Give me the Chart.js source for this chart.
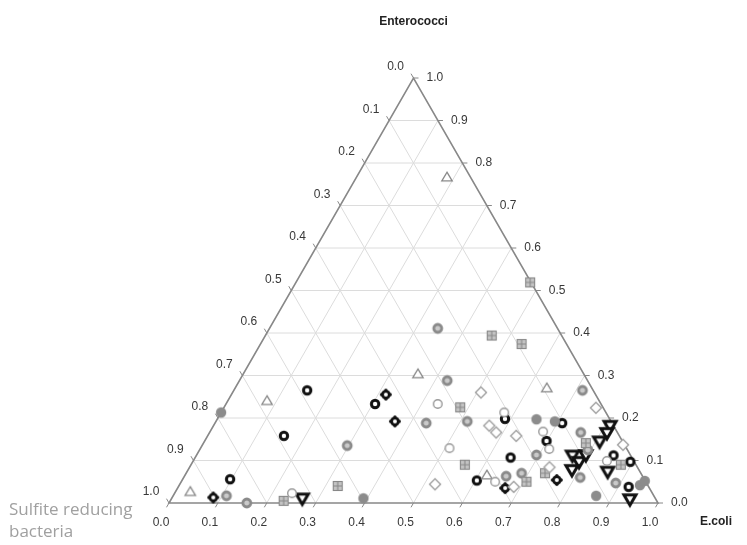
<!DOCTYPE html>
<html>
<head>
<meta charset="utf-8">
<script src="https://cdn.jsdelivr.net/npm/chart.js@4.4.0/dist/chart.umd.min.js"></script>
<style>
  html, body { margin: 0; padding: 0; background: #fff; }
  #chart { display: block; }
</style>
</head>
<body>
<canvas id="chart" width="747" height="545"></canvas>
<script>
// Axis ticks and titles
const tickLabels = ['0.0', '0.1', '0.2', '0.3', '0.4', '0.5', '0.6', '0.7', '0.8', '0.9', '1.0'];
const titleTop = 'Enterococci';
const titleRight = 'E.coli';
const titleLeft = ['Sulfite reducing', 'bacteria'];

// Samples as [E.coli, Enterococci] fractions (sulfite reducing bacteria = the rest)
const blackRings = [[0.15, 0.265], [0.305, 0.233], [0.156, 0.158], [0.097, 0.056], [0.588, 0.198], [0.71, 0.188],
  [0.699, 0.146], [0.645, 0.107], [0.603, 0.053], [0.895, 0.097], [0.853, 0.112], [0.921, 0.038]];
const blackFlowers = [[0.316, 0.255], [0.366, 0.192], [0.084, 0.013], [0.67, 0.035], [0.766, 0.054]];
const blackTriangles = [[0.267, 0.011], [0.811, 0.182], [0.813, 0.165], [0.808, 0.145], [0.769, 0.112], [0.79, 0.097],
  [0.785, 0.078], [0.86, 0.074], [0.938, 0.009], [0.796, 0.113]];
const grayRings = [[0.344, 0.411], [0.425, 0.288], [0.713, 0.265], [0.432, 0.188], [0.514, 0.192], [0.297, 0.135],
  [0.109, 0.017], [0.159, 0.0], [0.759, 0.166], [0.695, 0.113], [0.794, 0.125], [0.658, 0.063], [0.686, 0.07],
  [0.811, 0.06], [0.89, 0.047]];
const grayDots = [[0.0, 0.213], [0.392, 0.011], [0.653, 0.197], [0.693, 0.192], [0.865, 0.017], [0.942, 0.042], [0.947, 0.052]];
const openCircles = [[0.433, 0.233], [0.509, 0.129], [0.579, 0.213], [0.681, 0.168], [0.714, 0.127], [0.846, 0.099],
  [0.642, 0.05], [0.24, 0.023]];
const openDiamonds = [[0.508, 0.26], [0.761, 0.224], [0.564, 0.182], [0.586, 0.166], [0.631, 0.158], [0.86, 0.137],
  [0.736, 0.084], [0.686, 0.038], [0.522, 0.044]];
const openTriangles = [[0.185, 0.767], [0.357, 0.304], [0.637, 0.271], [0.08, 0.241], [0.03, 0.027], [0.617, 0.066]];
const boxedSquares = [[0.479, 0.519], [0.463, 0.394], [0.534, 0.374], [0.483, 0.225], [0.56, 0.09], [0.734, 0.07],
  [0.706, 0.05], [0.879, 0.09], [0.325, 0.04], [0.232, 0.005], [0.782, 0.141]];

const S3 = Math.sqrt(3) / 2;

// ternary -> cartesian (E.coli to the right, Enterococci up)
function toXY(p) {
  return { x: p[0] + p[1] / 2, y: p[1] * S3 };
}

// small canvases used as point styles
function marker(draw) {
  const c = document.createElement('canvas');
  c.width = 20; c.height = 20;
  const g = c.getContext('2d');
  g.translate(10, 10);
  draw(g);
  return c;
}
function circle(g, r) { g.beginPath(); g.arc(0, 0, r, 0, Math.PI * 2); }

const mkBlackRing = marker(g => {
  circle(g, 3.7); g.fillStyle = '#fff'; g.fill();
  g.lineWidth = 3; g.strokeStyle = '#111'; g.stroke();
});
const mkBlackFlower = marker(g => {
  g.fillStyle = '#111';
  [[4.3, 0], [-4.3, 0], [0, 4.3], [0, -4.3]].forEach(d => { g.beginPath(); g.arc(d[0], d[1], 1.7, 0, Math.PI * 2); g.fill(); });
  circle(g, 3.4); g.fillStyle = '#fff'; g.fill();
  g.lineWidth = 2.8; g.strokeStyle = '#111'; g.stroke();
  circle(g, 1.1); g.fillStyle = '#fff'; g.fill();
});
const mkBlackTri = marker(g => {
  g.beginPath(); g.moveTo(-6, -4.3); g.lineTo(6, -4.3); g.lineTo(0, 6); g.closePath();
  g.fillStyle = '#fff'; g.fill();
  g.lineWidth = 3; g.strokeStyle = '#111'; g.lineJoin = 'miter'; g.stroke();
});
const mkGrayRing = marker(g => {
  circle(g, 4); g.fillStyle = '#cacaca'; g.fill();
  g.lineWidth = 2.8; g.strokeStyle = '#8a8a8a'; g.stroke();
});
const mkGrayDot = marker(g => {
  circle(g, 5.2); g.fillStyle = '#8c8c8c'; g.fill();
});
const mkOpenCircle = marker(g => {
  circle(g, 4.3); g.fillStyle = '#fff'; g.fill();
  g.lineWidth = 1.4; g.strokeStyle = '#999'; g.stroke();
});
const mkOpenDiamond = marker(g => {
  g.beginPath(); g.moveTo(0, -5.5); g.lineTo(5.5, 0); g.lineTo(0, 5.5); g.lineTo(-5.5, 0); g.closePath();
  g.fillStyle = '#fff'; g.fill();
  g.lineWidth = 1.4; g.strokeStyle = '#a0a0a0'; g.stroke();
});
const mkOpenTri = marker(g => {
  g.beginPath(); g.moveTo(0, -4.8); g.lineTo(5.2, 3.8); g.lineTo(-5.2, 3.8); g.closePath();
  g.fillStyle = '#fff'; g.fill();
  g.lineWidth = 1.3; g.strokeStyle = '#888'; g.stroke();
});
const mkBoxed = marker(g => {
  g.fillStyle = '#c4c4c4'; g.fillRect(-4.5, -4.5, 9, 9);
  g.lineWidth = 1.1; g.strokeStyle = '#888';
  g.strokeRect(-4.5, -4.5, 9, 9);
  g.beginPath(); g.moveTo(-4.5, 0); g.lineTo(4.5, 0); g.moveTo(0, -4.5); g.lineTo(0, 4.5); g.stroke();
});

function series(label, pts, style) {
  return { label: label, data: pts.map(toXY), pointStyle: style, pointRadius: 5, clip: false };
}

// ternary frame: grid, edges, ticks, labels, titles
const ternaryFrame = {
  id: 'ternaryFrame',
  beforeDatasetsDraw(chart) {
    const ctx = chart.ctx;
    const xs = chart.scales.x, ys = chart.scales.y;
    const px = (a, b) => ({ x: xs.getPixelForValue(a + b / 2), y: ys.getPixelForValue(b * S3) });
    const line = (p, q) => { ctx.beginPath(); ctx.moveTo(p.x, p.y); ctx.lineTo(q.x, q.y); ctx.stroke(); };

    ctx.save();
    ctx.strokeStyle = '#dcdcdc';
    ctx.lineWidth = 1;
    for (let i = 1; i < 10; i++) {
      const t = i / 10;
      line(px(0, t), px(1 - t, t));
      line(px(t, 0), px(t, 1 - t));
      line(px(1 - t, 0), px(0, 1 - t));
    }

    ctx.strokeStyle = '#888';
    ctx.lineWidth = 1.6;
    ctx.beginPath();
    const A = px(0, 0), B = px(1, 0), C = px(0, 1);
    ctx.moveTo(A.x, A.y); ctx.lineTo(B.x, B.y); ctx.lineTo(C.x, C.y); ctx.closePath();
    ctx.stroke();

    ctx.lineWidth = 1;
    ctx.font = '12px "Liberation Sans", Arial, sans-serif';
    ctx.fillStyle = '#383838';
    ctx.textBaseline = 'middle';
    tickLabels.forEach((lab, i) => {
      const t = i / 10;
      // bottom: E.coli
      let p = px(t, 0);
      line(p, { x: p.x - 2.5, y: p.y + 4.3 });
      ctx.textAlign = 'center';
      ctx.fillText(lab, p.x - 8, p.y + 20);
      // right: Enterococci
      p = px(1 - t, t);
      line(p, { x: p.x + 5, y: p.y });
      ctx.textAlign = 'left';
      ctx.fillText(lab, p.x + 13, p.y);
      // left: sulfite reducing bacteria
      p = px(0, 1 - t);
      line(p, { x: p.x - 2.5, y: p.y - 4.3 });
      ctx.textAlign = 'center';
      ctx.fillText(lab, p.x - 18, p.y - 11);
    });

    ctx.fillStyle = '#222';
    ctx.font = 'bold 12px "Liberation Sans", Arial, sans-serif';
    ctx.textAlign = 'center';
    ctx.fillText(titleTop, C.x, 22);
    ctx.textAlign = 'left';
    ctx.fillText(titleRight, 700, B.y + 19);

    ctx.fillStyle = '#a0a0a0';
    ctx.font = '17px "Open Sans", sans-serif';
    ctx.fillText(titleLeft[0], 9, 510);
    ctx.fillText(titleLeft[1], 9, 532);
    ctx.restore();
  }
};

new Chart(document.getElementById('chart'), {
  type: 'scatter',
  data: {
    datasets: [
      series('open diamond', openDiamonds, mkOpenDiamond),
      series('open circle', openCircles, mkOpenCircle),
      series('open triangle', openTriangles, mkOpenTri),
      series('boxed square', boxedSquares, mkBoxed),
      series('gray dot', grayDots, mkGrayDot),
      series('gray ring', grayRings, mkGrayRing),
      series('black ring', blackRings, mkBlackRing),
      series('black flower', blackFlowers, mkBlackFlower),
      series('black triangle', blackTriangles, mkBlackTri)
    ]
  },
  options: {
    responsive: false,
    animation: false,
    layout: { padding: { left: 169, right: 89, top: 78, bottom: 42 } },
    plugins: { legend: { display: false }, tooltip: { enabled: false } },
    scales: {
      x: { type: 'linear', min: 0, max: 1, display: false },
      y: { type: 'linear', min: 0, max: S3, display: false }
    }
  },
  plugins: [ternaryFrame]
});
</script>
</body>
</html>
